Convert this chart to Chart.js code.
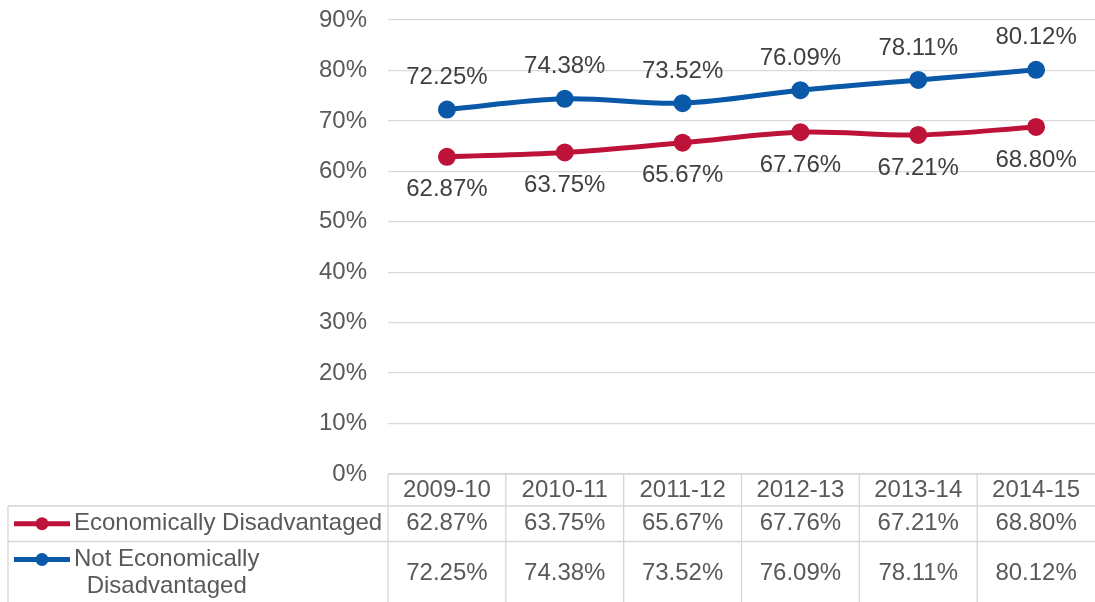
<!DOCTYPE html>
<html>
<head>
<meta charset="utf-8">
<script src="https://cdn.jsdelivr.net/npm/chart.js@4/dist/chart.umd.min.js"></script>
<style>
  body { margin: 0; background: #fff; }
  #wrap { width: 1095px; height: 602px; }
</style>
</head>
<body>
<div id="wrap"><canvas id="chart" width="1095" height="602"></canvas></div>
<script>
// data
var years = ['2009-10', '2010-11', '2011-12', '2012-13', '2013-14', '2014-15'];
var econDisadv = [62.87, 63.75, 65.67, 67.76, 67.21, 68.80];
var notEconDisadv = [72.25, 74.38, 73.52, 76.09, 78.11, 80.12];
var seriesNames = ['Economically Disadvantaged', 'Not Economically Disadvantaged'];
var yTicks = [0, 10, 20, 30, 40, 50, 60, 70, 80, 90];

var RED = '#BE1339';
var BLUE = '#0A58A8';
var FONT = '"Liberation Sans", Arial, sans-serif';
var FSIZE = 24;

function pct(v) { return v.toFixed(2) + '%'; }

// labels above (blue) / below (red) the points
var pointLabels = {
  id: 'pointLabels',
  afterDatasetsDraw: function(chart) {
    var ctx = chart.ctx;
    ctx.save();
    ctx.font = FSIZE + 'px ' + FONT;
    ctx.fillStyle = '#404040';
    ctx.textAlign = 'center';
    ctx.textBaseline = 'middle';
    chart.data.datasets.forEach(function(ds, di) {
      var meta = chart.getDatasetMeta(di);
      meta.data.forEach(function(pt, i) {
        var off = di == 1 ? -32 : 33;
        ctx.fillText(pct(ds.data[i]), pt.x, pt.y + off);
      });
    });
    ctx.restore();
  }
};

// excel style data table under the plot
var dataTable = {
  id: 'dataTable',
  afterDraw: function(chart) {
    var ctx = chart.ctx;
    var area = chart.chartArea;
    var xs = chart.scales.x;
    var n = years.length;
    var colW = (area.right - area.left) / n;
    var top = area.bottom;
    var r1 = top + 32;
    var r2 = top + 67.5;
    var bottom = chart.height;
    var leftX = 8;

    ctx.save();
    ctx.strokeStyle = '#D6D6D6';
    ctx.lineWidth = 1.3;
    ctx.beginPath();
    ctx.moveTo(area.left, top); ctx.lineTo(area.right, top);
    ctx.moveTo(leftX, r1); ctx.lineTo(area.right, r1);
    ctx.moveTo(leftX, r2); ctx.lineTo(area.right, r2);
    ctx.moveTo(leftX, r1); ctx.lineTo(leftX, bottom);
    for (var c = 0; c < n; c++) {
      var bx = area.left + c * colW;
      ctx.moveTo(bx, top); ctx.lineTo(bx, bottom);
    }
    ctx.stroke();

    ctx.font = FSIZE + 'px ' + FONT;
    ctx.fillStyle = '#595959';
    ctx.textAlign = 'center';
    ctx.textBaseline = 'middle';
    years.forEach(function(y, i) {
      ctx.fillText(y, xs.getPixelForValue(i), (top + r1) / 2);
    });
    var rowMid = [(r1 + r2) / 2, r2 + 32];
    chart.data.datasets.forEach(function(ds, di) {
      ds.data.forEach(function(v, i) {
        ctx.fillText(pct(v), xs.getPixelForValue(i), rowMid[di]);
      });
    });

    // row headers with legend markers
    var rowTop = [(r1 + r2) / 2, r2 + 18];
    chart.data.datasets.forEach(function(ds, di) {
      var my = rowTop[di];
      ctx.strokeStyle = ds.borderColor;
      ctx.lineWidth = 5;
      ctx.beginPath();
      ctx.moveTo(14, my); ctx.lineTo(70, my);
      ctx.stroke();
      ctx.fillStyle = ds.borderColor;
      ctx.beginPath();
      ctx.arc(42, my, 6.5, 0, Math.PI * 2);
      ctx.fill();

      ctx.fillStyle = '#595959';
      var maxW = area.left - 70;
      var words = ds.label.split(' ');
      var lines = [], cur = '';
      words.forEach(function(w) {
        var t = cur ? cur + ' ' + w : w;
        if (ctx.measureText(t).width > maxW && cur) { lines.push(cur); cur = w; }
        else cur = t;
      });
      lines.push(cur);
      var blockW = 0;
      lines.forEach(function(l) { blockW = Math.max(blockW, ctx.measureText(l).width); });
      var cx = 74 + blockW / 2;
      lines.forEach(function(l, li) {
        ctx.fillText(l, cx, my + li * 27);
      });
    });
    ctx.restore();
  }
};

var ctx = document.getElementById('chart').getContext('2d');
var myChart = new Chart(ctx, {
  type: 'line',
  data: {
    labels: years,
    datasets: [{
      label: seriesNames[0],
      data: econDisadv,
      borderColor: RED,
      backgroundColor: RED,
      borderWidth: 5,
      pointRadius: 6.5,
      pointHoverRadius: 6.5,
      tension: 0.35
    }, {
      label: seriesNames[1],
      data: notEconDisadv,
      borderColor: BLUE,
      backgroundColor: BLUE,
      borderWidth: 5,
      pointRadius: 6.5,
      pointHoverRadius: 6.5,
      tension: 0.35
    }]
  },
  options: {
    responsive: false,
    animation: false,
    layout: { autoPadding: false, padding: { top: 20, bottom: 128, left: 0, right: 0 } },
    plugins: { legend: { display: false }, tooltip: { enabled: false } },
    scales: {
      x: { display: false, offset: true },
      y: {
        min: 0, max: 90,
        afterFit: function(scale) {
          scale.width = 388;
          scale.paddingTop = 0; scale.paddingBottom = 0;
        },
        afterBuildTicks: function(scale) {
          scale.ticks = yTicks.map(function(v) { return { value: v }; });
        },
        border: { display: false },
        grid: { color: '#D9D9D9', lineWidth: 1.3, drawTicks: false },
        ticks: {
          padding: 21,
          color: '#595959',
          font: { family: FONT, size: FSIZE },
          callback: function(v) { return v + '%'; }
        }
      }
    }
  },
  plugins: [pointLabels, dataTable]
});
</script>
</body>
</html>
